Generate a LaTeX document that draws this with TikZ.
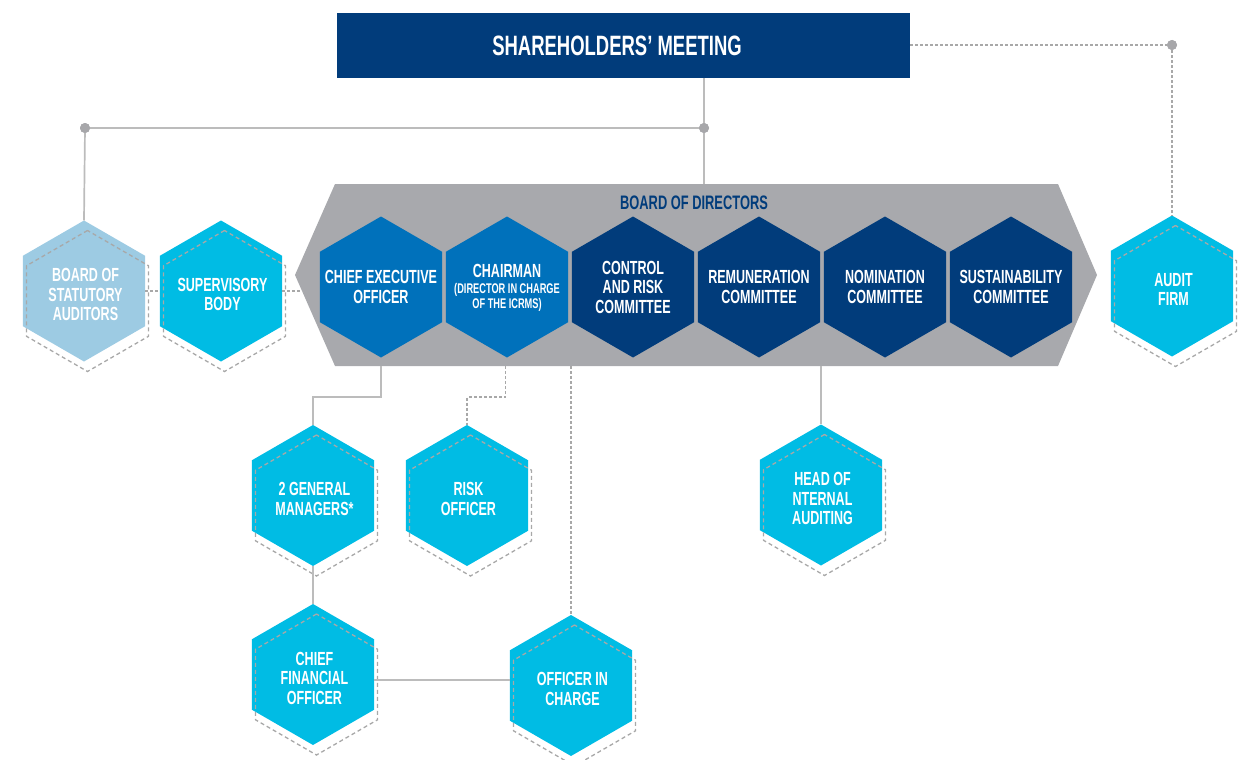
\documentclass[tikz,border=0pt]{standalone}
\usepackage{fontspec}
\setmainfont{Liberation Sans}[FakeStretch=0.66]
\usetikzlibrary{shapes.geometric}
\definecolor{dblue}{RGB}{1,60,123}
\definecolor{mblue}{RGB}{0,113,187}
\definecolor{cyanb}{RGB}{0,188,228}
\definecolor{lblue}{RGB}{157,203,227}
\definecolor{bodgray}{RGB}{168,169,173}
\definecolor{linegray}{RGB}{188,188,188}
\definecolor{dashgray}{RGB}{168,168,168}
\definecolor{dotgray}{RGB}{167,167,170}
\newcommand\hexboard[5]{%
  \node[hexa, fill=#4] (#1) at (#2,#3) {};
  \node[hextext] (#1-t) at (#1.center) {#5};}
\newcommand\hexdashed[5]{%
  \node[hexa, fill=#4] (#1) at (#2,#3) {};
  \node[hexdash] (#1-d) at ([shift={(3.5,10)}]#1.center) {};
  \node[hextext] (#1-t) at ([shift={(1.5,3.5)}]#1.center) {#5};}
\begin{document}
\begin{tikzpicture}[x=1bp,y=-1bp,
  hexa/.style={regular polygon, regular polygon sides=6, shape border rotate=30,
    minimum size=141bp, inner sep=0pt, outer sep=0pt, draw=none},
  hexdash/.style={hexa, draw=dashgray, fill=none, line width=1.3bp, dash pattern=on 4bp off 3bp},
  hextext/.style={text=white, font=\bfseries\fontsize{19bp}{19.5bp}\selectfont, align=center, inner sep=0pt},
  conn/.style={draw=linegray, line width=1.7bp},
  dconn/.style={draw=dashgray, line width=1.3bp, dash pattern=on 3bp off 2bp},
  jdot/.style={circle, fill=dotgray, minimum size=10bp, inner sep=0pt}]
\useasboundingbox (0,0) rectangle (1243,760);

% Shareholders' meeting
\node[fill=dblue, minimum width=573bp, minimum height=65bp, inner sep=0pt, outer sep=0pt] (sm) at (623.5,45.5) {};
\node[text=white, font=\bfseries\fontsize{28bp}{30bp}\selectfont, inner sep=0pt] (sm-t) at (617,46) {SHAREHOLDERS’ MEETING};

% dots and named coordinates
\node[jdot] (d1) at (704,128) {};
\node[jdot] (d2) at (85,128) {};
\node[jdot] (d3) at (1172,45) {};
\coordinate (bodN) at (704,184);
\coordinate (bodS) at (694,366);

% connectors behind the board
\draw[conn] (sm.south -| d1) -- (d1) -- (bodN);
\draw[conn] (d2) -- (d1);
\draw[dconn] (sm.east |- d3) -- (d3);

% Board polygon
\fill[bodgray] (295,275) -- (335,184) -- (1058,184) -- (1097,275) -- (1058,366) -- (335,366) -- cycle;
\node[text=dblue, font=\bfseries\fontsize{19.5bp}{20bp}\selectfont, inner sep=0pt] (bod-t) at (694,203) {BOARD OF DIRECTORS};

% Board hexagons
\hexboard{ceo}{381}{287}{mblue}{CHIEF EXECUTIVE\\OFFICER}
\node[hexa, fill=mblue] (chair) at (507,287) {};
\node[hextext] (chair-t) at (507,271) {CHAIRMAN};
\node[text=white, font=\bfseries\fontsize{14bp}{15bp}\selectfont, align=center, inner sep=0pt] (chair-s) at (507,297) {(DIRECTOR IN CHARGE\\OF THE ICRMS)};
\hexboard{crc}{633}{287}{dblue}{CONTROL\\AND RISK\\COMMITTEE}
\hexboard{rem}{759}{287}{dblue}{REMUNERATION\\COMMITTEE}
\hexboard{nom}{885}{287}{dblue}{NOMINATION\\COMMITTEE}
\hexboard{sus}{1011}{287}{dblue}{SUSTAINABILITY\\COMMITTEE}

% Outer hexagons
\hexdashed{bsa}{84}{291}{lblue}{BOARD OF\\STATUTORY\\AUDITORS}
\hexdashed{sup}{221}{291}{cyanb}{SUPERVISORY\\BODY}
\hexdashed{audit}{1172}{286}{cyanb}{AUDIT\\FIRM}
\hexdashed{gm}{313}{495.5}{cyanb}{2 GENERAL\\MANAGERS*}
\hexdashed{risk}{467}{495.5}{cyanb}{RISK\\OFFICER}
\hexdashed{head}{821}{495}{cyanb}{HEAD OF\\NTERNAL\\AUDITING}
\hexdashed{cfo}{313}{674.5}{cyanb}{CHIEF\\FINANCIAL\\OFFICER}
\hexdashed{oic}{571}{685.5}{cyanb}{OFFICER IN\\CHARGE}

% Connectors
\draw[conn] (d2) -- (bsa.north);
\draw[dconn] (d3) -- (audit.north);
\draw[dconn] (bsa.east) -- (sup.west);
\draw[dconn] (sup.east) -- (sup.east -| 302,0);
\draw[conn] (bodS -| ceo.south) -- ++(0,31) -| (gm.north);
\draw[dconn] ([xshift=-1.5bp]bodS -| chair.south) -- ++(0,31) -| (risk.north);
\draw[dconn] (bodS -| oic.north) -- (oic.north);
\draw[conn] (bodS -| head.north) -- (head.north);
\draw[conn] (gm.south) -- (cfo.north);
\draw[conn] ([yshift=-5.5bp]cfo.east) -- ([yshift=5.5bp]oic.west);

% dots on top
\node[jdot] at (d1) {};
\node[jdot] at (d2) {};
\node[jdot] at (d3) {};
\end{tikzpicture}
\end{document}
